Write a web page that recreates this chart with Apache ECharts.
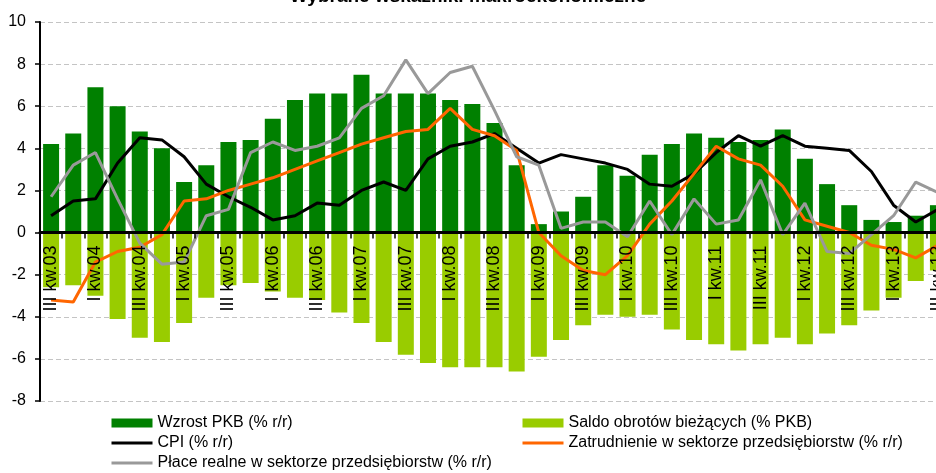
<!DOCTYPE html>
<html><head><meta charset="utf-8">
<script src="https://cdn.jsdelivr.net/npm/echarts@6/dist/echarts.min.js"></script>
<style>html,body{margin:0;padding:0;background:#fff;}#c{width:936px;height:473px;}</style>
</head><body><div id="c"></div>
<script>
const categories = ['III kw.03','IV kw.03','I kw.04','II kw.04','III kw.04','IV kw.04','I kw.05','II kw.05','III kw.05','IV kw.05','I kw.06','II kw.06','III kw.06','IV kw.06','I kw.07','II kw.07','III kw.07','IV kw.07','I kw.08','II kw.08','III kw.08','IV kw.08','I kw.09','II kw.09','III kw.09','IV kw.09','I kw.10','II kw.10','III kw.10','IV kw.10','I kw.11','II kw.11','III kw.11','IV kw.11','I kw.12','II kw.12','III kw.12','IV kw.12','I kw.13','II kw.13','III kw.13'];
const gdp = [4.2,4.7,6.9,6.0,4.8,4.0,2.4,3.2,4.3,4.4,5.4,6.3,6.6,6.6,7.5,6.6,6.6,6.6,6.3,6.1,5.2,3.2,0.4,1.0,1.7,3.2,2.7,3.7,4.2,4.7,4.5,4.3,4.4,4.9,3.5,2.3,1.3,0.6,0.5,0.8,1.3];
const currentAccount = [-2.6,-2.5,-3.0,-4.1,-5.0,-5.2,-4.3,-3.1,-2.5,-2.4,-2.8,-3.1,-3.2,-3.8,-4.3,-5.2,-5.8,-6.2,-6.4,-6.4,-6.4,-6.6,-5.9,-5.1,-4.4,-3.9,-4.0,-3.9,-4.6,-5.1,-5.3,-5.6,-5.3,-5.0,-5.3,-4.8,-4.4,-3.7,-3.1,-2.3,-1.8];
const cpi = [0.8,1.5,1.6,3.3,4.5,4.4,3.6,2.3,1.7,1.2,0.6,0.8,1.4,1.3,2.0,2.4,2.0,3.5,4.1,4.3,4.7,4.0,3.3,3.7,3.5,3.3,3.0,2.3,2.2,2.8,3.8,4.6,4.1,4.6,4.1,4.0,3.9,2.9,1.3,0.5,1.1];
const employment = [-3.2,-3.3,-1.4,-0.9,-0.7,-0.1,1.5,1.6,2.0,2.3,2.6,3.0,3.4,3.8,4.2,4.5,4.8,4.9,5.9,4.9,4.6,3.9,0.0,-1.1,-1.8,-2.0,-1.1,0.4,1.5,2.8,4.1,3.5,3.2,2.2,0.6,0.3,0.0,-0.6,-0.8,-1.2,-0.6];
const realWages = [1.7,3.2,3.8,1.6,-0.5,-1.5,-1.4,0.8,1.1,3.8,4.3,3.9,4.1,4.5,5.9,6.5,8.2,6.6,7.6,7.9,5.8,3.6,3.2,0.2,0.5,0.5,-0.2,1.5,-0.1,1.6,0.4,0.6,2.5,-0.1,1.4,-0.9,-1.0,-0.1,0.8,2.4,1.9];
const yTicks = {min: -8, max: 10, interval: 2};

const names = ['Wzrost PKB (% r/r)','Saldo obrotów bieżących (% PKB)','CPI (% r/r)','Zatrudnienie w sektorze przedsiębiorstw (% r/r)','Płace realne w sektorze przedsiębiorstw (% r/r)'];
const FONT = 'Liberation Sans, Arial, sans-serif';

const GRID = {left:40, top:22, width:909, height:379};
// place the category axis on the zero line of the value axis
const zeroOffset = -GRID.height * (0 - yTicks.min) / (yTicks.max - yTicks.min);

const chart = echarts.init(document.getElementById('c'), null, {renderer:'canvas'});
const legendCommon = {orient:'vertical', top:415, itemWidth:41, itemHeight:9, itemGap:4, padding:0,
  textStyle:{fontSize:16, lineHeight:16, color:'#000', fontFamily:FONT}};
const barItem = n => ({name:n, icon:'rect'});
const lineItem = n => ({name:n, itemStyle:{opacity:0}, lineStyle:{width:3}});
chart.setOption({
  animation:false,
  backgroundColor:'#fff',
  title:{text:'Wybrane wskaźniki makroekonomiczne', left:'center', top:-13, padding:0,
    textStyle:{fontSize:19, fontWeight:'bold', color:'#000', fontFamily:FONT}},
  legend:[
    Object.assign({}, legendCommon, {left:110, data:[barItem(names[0]), lineItem(names[2]), lineItem(names[4])]}),
    Object.assign({}, legendCommon, {left:521, data:[barItem(names[1]), lineItem(names[3])]})
  ],
  grid:Object.assign({containLabel:false, outerBoundsMode:'none'}, GRID),
  xAxis:{type:'category', data:categories, z:5, position:'bottom', offset:zeroOffset,
    axisLine:{onZero:false, lineStyle:{color:'#000', width:3}},
    axisTick:{show:true, interval:0, length:6, lineStyle:{color:'#000', width:1.5}},
    axisLabel:{interval:1, rotate:90, margin:13, fontSize:18, color:'#000', fontFamily:FONT},
    splitLine:{show:false}},
  yAxis:{type:'value', min:yTicks.min, max:yTicks.max, interval:yTicks.interval,
    axisLine:{show:true, lineStyle:{color:'#000', width:2}},
    axisTick:{show:true, length:5, lineStyle:{color:'#000', width:1.5}},
    axisLabel:{margin:14, fontSize:16, color:'#000', fontFamily:FONT},
    splitLine:{show:true, lineStyle:{type:[5,3], color:'#c4c4c4', width:1}}},
  series:[
    {name:names[0], type:'bar', data:gdp, barWidth:16, itemStyle:{color:'#008000'}},
    {name:names[1], type:'bar', data:currentAccount, barWidth:16, barGap:'-100%', itemStyle:{color:'#99cc00'}},
    {name:names[2], type:'line', data:cpi, symbol:'none', lineStyle:{width:3, color:'#000'}, itemStyle:{color:'#000'}},
    {name:names[3], type:'line', data:employment, symbol:'none', lineStyle:{width:3, color:'#ff6600'}, itemStyle:{color:'#ff6600'}},
    {name:names[4], type:'line', data:realWages, symbol:'none', lineStyle:{width:3, color:'#999999'}, itemStyle:{color:'#999999'}}
  ]
});
</script></body></html>
